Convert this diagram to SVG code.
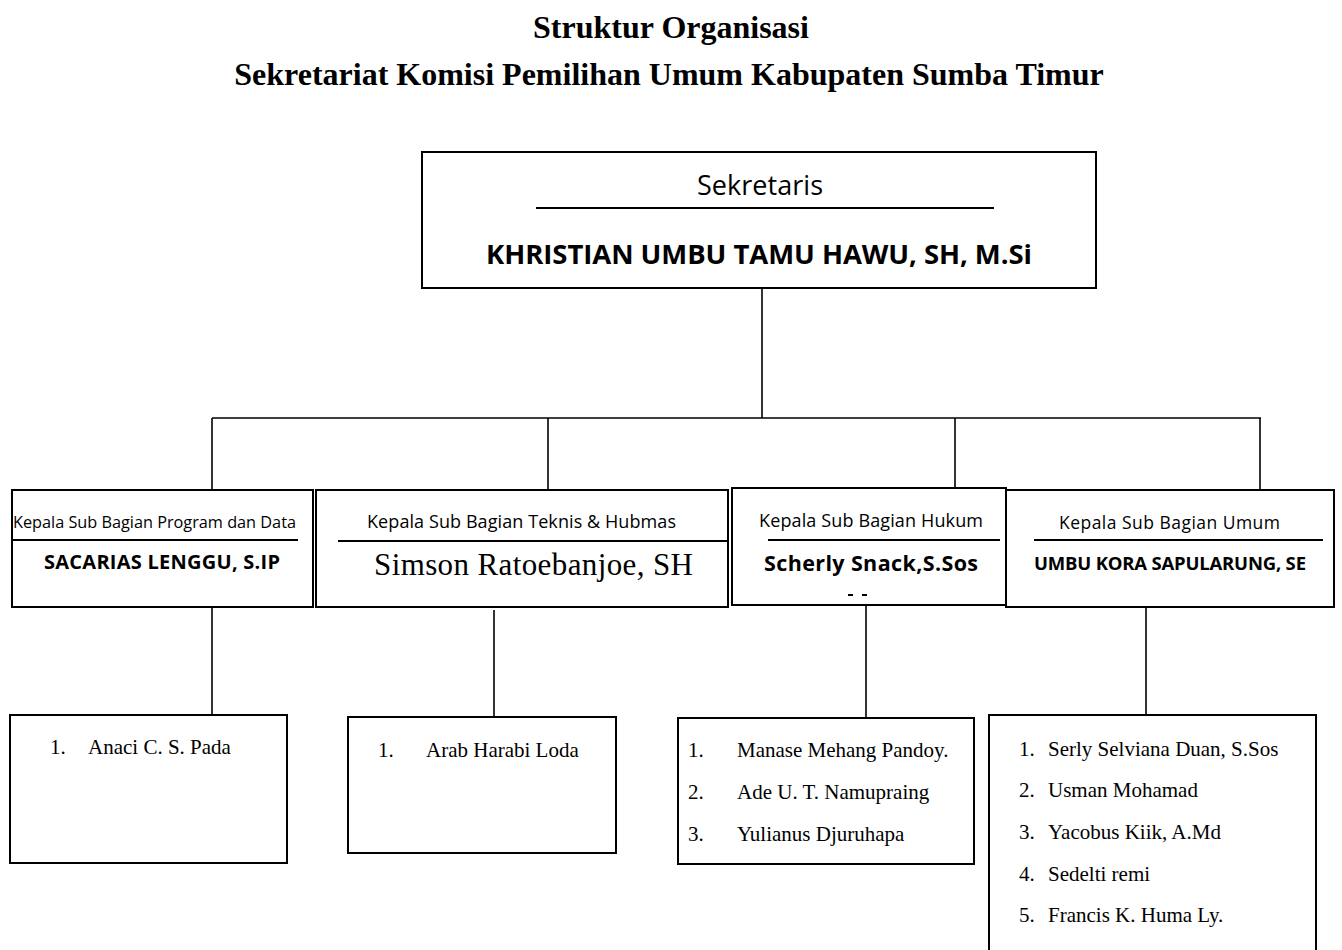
<svg xmlns="http://www.w3.org/2000/svg" width="1342" height="950" viewBox="0 0 1342 950">
<style>
.box{fill:#fff;stroke:#000;stroke-width:2}
.sep{stroke:#000;stroke-width:2}
.conn{stroke:#000;stroke-width:1.6;fill:none}
.title{font-family:"Liberation Serif","Times New Roman",serif;font-weight:bold;font-size:32px;text-anchor:middle}
.cal{font-family:"Open Sans","Liberation Sans",sans-serif}
.calb{font-family:"Open Sans","Liberation Sans",sans-serif;font-weight:bold}
.tnr{font-family:"Liberation Serif","Times New Roman",serif;font-size:21px}
</style>
<rect width="1342" height="950" fill="#fff"/>
<g id="title">
<text class="title" x="671" y="38">Struktur Organisasi</text>
<text class="title" x="669" y="85">Sekretariat Komisi Pemilihan Umum Kabupaten Sumba Timur</text>
</g>
<g id="connectors">
<line class="conn" x1="762" y1="288" x2="762" y2="418"/>
<line class="conn" x1="212" y1="418" x2="1261" y2="418"/>
<line class="conn" x1="212" y1="418" x2="212" y2="490"/>
<line class="conn" x1="548" y1="418" x2="548" y2="490"/>
<line class="conn" x1="955" y1="418" x2="955" y2="494"/>
<line class="conn" x1="1260" y1="418" x2="1260" y2="490"/>
<line class="conn" x1="212" y1="607" x2="212" y2="714"/>
<line class="conn" x1="494" y1="610" x2="494" y2="717"/>
<line class="conn" x1="866" y1="606" x2="866" y2="718"/>
<line class="conn" x1="1146" y1="608" x2="1146" y2="715"/>
</g>
<g id="sekretaris">
<rect class="box" x="422" y="152" width="674" height="136"/>
<text class="cal" x="760" y="195" font-size="27" text-anchor="middle" textLength="126">Sekretaris</text>
<line class="sep" x1="536" y1="208" x2="994" y2="208"/>
<text class="calb" x="759" y="264" font-size="27.5" text-anchor="middle" textLength="546">KHRISTIAN UMBU TAMU HAWU, SH, M.Si</text>
</g>
<g id="program">
<rect class="box" x="12" y="490" width="301" height="117"/>
<text class="cal" x="13" y="528" font-size="16.3" textLength="283">Kepala Sub Bagian Program dan Data</text>
<line class="sep" x1="12" y1="540" x2="298" y2="540"/>
<text class="calb" x="44" y="569" font-size="20" textLength="236">SACARIAS LENGGU, S.IP</text>
</g>
<g id="teknis">
<rect class="box" x="316" y="490" width="412" height="117"/>
<text class="cal" x="367" y="528" font-size="18" textLength="309">Kepala Sub Bagian Teknis &amp; Hubmas</text>
<line class="sep" x1="338" y1="541" x2="728" y2="541"/>
<text class="tnr" x="374" y="575" style="font-size:31px" textLength="319">Simson Ratoebanjoe, SH</text>
</g>
<g id="hukum">
<rect class="box" x="732" y="488" width="274" height="117"/>
<text class="cal" x="759" y="527" font-size="18" textLength="224">Kepala Sub Bagian Hukum</text>
<line class="sep" x1="768" y1="540" x2="1000" y2="540"/>
<text class="calb" x="764" y="571" font-size="21.5" textLength="214">Scherly Snack,S.Sos</text>
<line class="sep" x1="848" y1="595" x2="853" y2="595"/>
<line class="sep" x1="862" y1="595" x2="867" y2="595"/>
</g>
<g id="umum">
<rect class="box" x="1006" y="490" width="328" height="117"/>
<text class="cal" x="1059" y="529" font-size="17.5" textLength="221">Kepala Sub Bagian Umum</text>
<line class="sep" x1="1034" y1="540" x2="1323" y2="540"/>
<text class="calb" x="1034" y="570" font-size="18.5" textLength="272">UMBU KORA SAPULARUNG, SE</text>
</g>
<g id="staf-program">
<rect class="box" x="10" y="715" width="277" height="148"/>
<text class="tnr" x="50" y="754">1.</text>
<text class="tnr" x="88" y="754">Anaci C. S. Pada</text>
</g>
<g id="staf-teknis">
<rect class="box" x="348" y="717" width="268" height="136"/>
<text class="tnr" x="378" y="757">1.</text>
<text class="tnr" x="426" y="757">Arab Harabi Loda</text>
</g>
<g id="staf-hukum">
<rect class="box" x="678" y="718" width="296" height="146"/>
<text class="tnr" x="688" y="757">1.</text>
<text class="tnr" x="737" y="757">Manase Mehang Pandoy.</text>
<text class="tnr" x="688" y="799">2.</text>
<text class="tnr" x="737" y="799">Ade U. T. Namupraing</text>
<text class="tnr" x="688" y="841">3.</text>
<text class="tnr" x="737" y="841">Yulianus Djuruhapa</text>
</g>
<g id="staf-umum">
<rect class="box" x="989" y="715" width="327" height="250"/>
<text class="tnr" x="1019" y="756">1.</text>
<text class="tnr" x="1048" y="756">Serly Selviana Duan, S.Sos</text>
<text class="tnr" x="1019" y="797">2.</text>
<text class="tnr" x="1048" y="797">Usman Mohamad</text>
<text class="tnr" x="1019" y="839">3.</text>
<text class="tnr" x="1048" y="839">Yacobus Kiik, A.Md</text>
<text class="tnr" x="1019" y="881">4.</text>
<text class="tnr" x="1048" y="881">Sedelti remi</text>
<text class="tnr" x="1019" y="922">5.</text>
<text class="tnr" x="1048" y="922">Francis K. Huma Ly.</text>
</g>
</svg>
